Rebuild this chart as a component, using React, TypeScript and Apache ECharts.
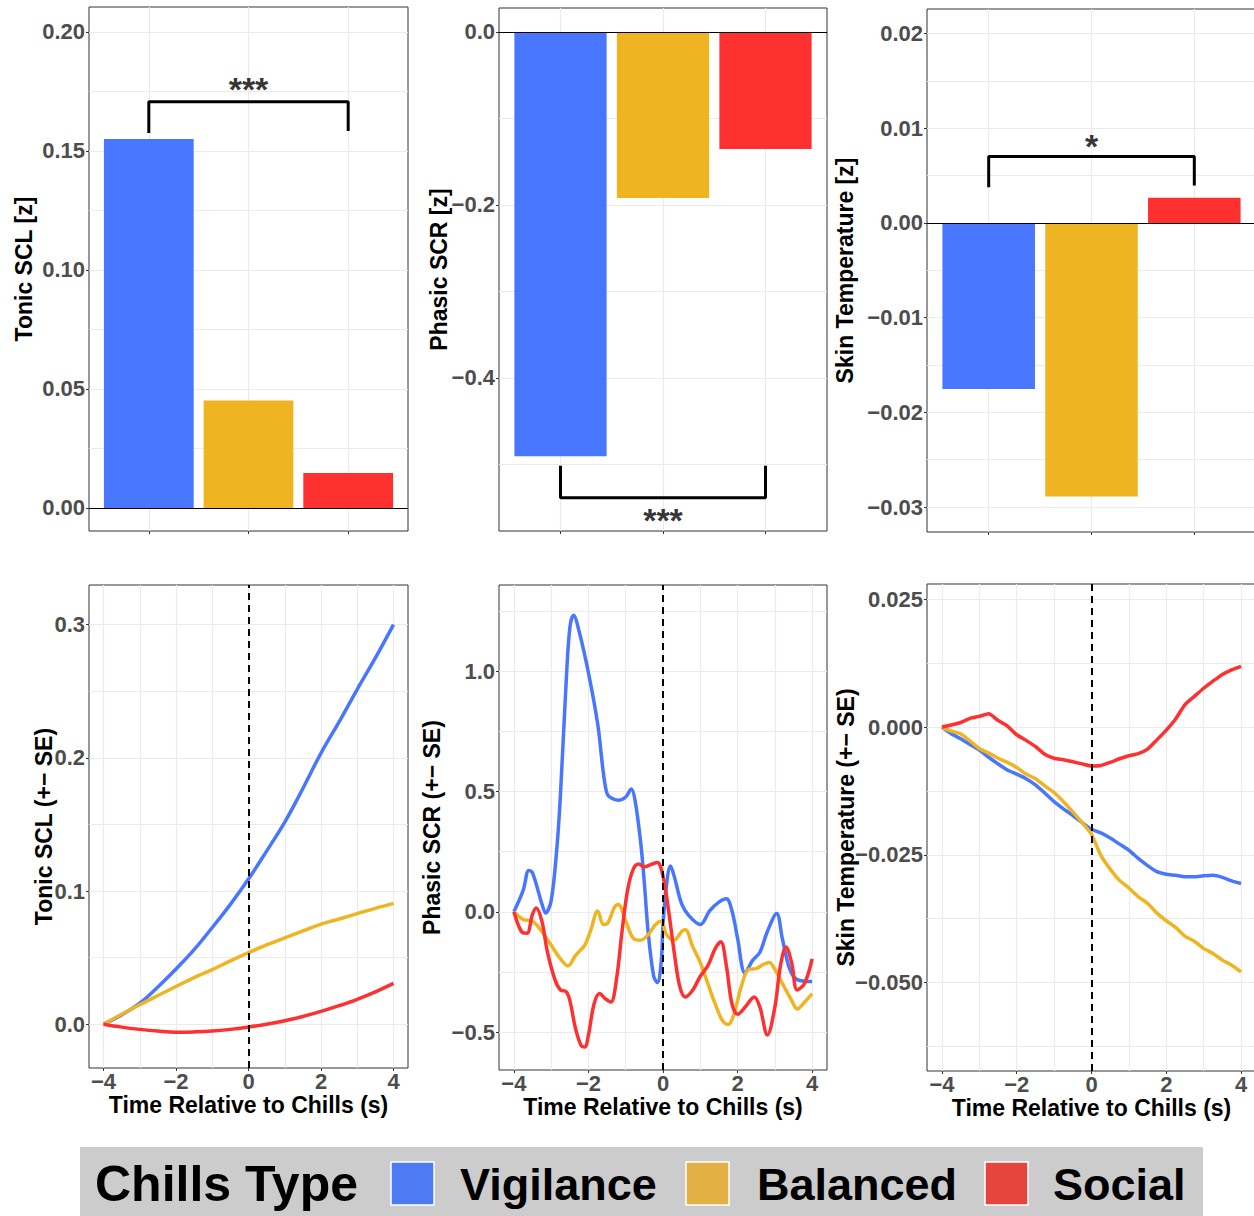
import React, { useEffect, useRef } from 'react';
import * as echarts from 'echarts';

const FONT = '"Liberation Sans", Arial, Helvetica, sans-serif';

// ---------- data ----------
const chillsTypes = ['Vigilance', 'Balanced', 'Social'];
const seriesColors = ['#4876FF', '#EEB422', '#FF3030'];
const legendKeyColors = ['#4D7BF3', '#E3B143', '#E5453D'];

// top row: mean responses per chills type
const tonicBar = [0.155, 0.0451, 0.0147];
const phasicBar = [-0.4904, -0.192, -0.1353];
const skinBar = [-0.01754, -0.0289, 0.00266];

// significance brackets: [legStart, barLevel, legEnd, labelLevel]
const tonicSig = [0.1575, 0.1707, 0.1584, 0.178];
const phasicSig = [-0.5016, -0.5384, -0.5016, -0.5595];
const skinSig = [0.00376, 0.00703, 0.00395, 0.00852];
const tonicStars = '***';
const phasicStars = '***';
const skinStars = '*';

// bottom-left: Tonic SCL time course
const tonicTime = [-4, -3.5, -3, -2.5, -2, -1.5, -1, -0.5, 0, 0.5, 1, 1.5, 2, 2.5, 3, 3.5, 4];
const tonicVigilance = [0, 0.007, 0.0158, 0.028, 0.0415, 0.056, 0.0726, 0.09, 0.109, 0.13, 0.1517, 0.177, 0.2036, 0.227, 0.2515, 0.275, 0.3];
const tonicBalanced = [0, 0.0074, 0.0146, 0.0215, 0.0283, 0.035, 0.041, 0.0475, 0.0537, 0.0595, 0.0648, 0.07, 0.0752, 0.079, 0.083, 0.087, 0.0907];
const tonicSocial = [0, -0.0022, -0.0039, -0.0052, -0.006, -0.0058, -0.0052, -0.0039, -0.0021, 0.0, 0.0026, 0.0058, 0.0096, 0.0139, 0.0187, 0.0243, 0.0306];

// bottom-middle: Phasic SCR time course
const phasicVigTime = [-4, -3.75, -3.6, -3.5, -3.25, -3.15, -3.0, -2.85, -2.75, -2.6, -2.5, -2.4, -2.25, -2.0, -1.75, -1.6, -1.5, -1.4, -1.2, -1.0, -0.85, -0.75, -0.6, -0.5, -0.4, -0.25, -0.15, -0.05, 0, 0.1, 0.2, 0.3, 0.5, 0.7, 1.0, 1.25, 1.5, 1.7, 1.85, 2.0, 2.2, 2.4, 2.6, 2.8, 3.05, 3.2, 3.4, 3.6, 4.0];
const phasicVigilance = [0, 0.09, 0.172, 0.162, 0.033, -0.005, 0.047, 0.26, 0.49, 0.95, 1.18, 1.232, 1.165, 0.993, 0.778, 0.577, 0.49, 0.474, 0.463, 0.477, 0.51, 0.463, 0.29, 0.119, -0.082, -0.268, -0.294, -0.21, -0.053, 0.119, 0.19, 0.148, 0.033, -0.017, -0.053, 0.004, 0.04, 0.054, 0.004, -0.11, -0.254, -0.203, -0.168, -0.082, -0.007, -0.11, -0.239, -0.282, -0.29];
const phasicBalTime = [-4, -3.75, -3.5, -3.25, -3.0, -2.75, -2.55, -2.35, -2.1, -1.95, -1.75, -1.6, -1.5, -1.3, -1.2, -1.0, -0.8, -0.6, -0.4, -0.2, -0.05, 0.1, 0.3, 0.5, 0.6, 0.8, 1.0, 1.2, 1.4, 1.6, 1.75, 1.9, 2.1, 2.3, 2.5, 2.7, 2.85, 3.0, 3.2, 3.45, 3.6, 3.8, 4.0];
const phasicBalanced = [0, -0.032, -0.039, -0.082, -0.139, -0.196, -0.225, -0.182, -0.139, -0.082, 0.003, -0.053, -0.05, 0.019, 0.03, -0.039, -0.11, -0.118, -0.096, -0.053, -0.039, -0.096, -0.118, -0.082, -0.075, -0.146, -0.211, -0.297, -0.383, -0.454, -0.469, -0.426, -0.311, -0.239, -0.236, -0.218, -0.211, -0.239, -0.297, -0.368, -0.404, -0.375, -0.34];
const phasicSocTime = [-4, -3.8, -3.65, -3.5, -3.4, -3.25, -3.1, -2.9, -2.75, -2.6, -2.5, -2.35, -2.2, -2.1, -2.0, -1.85, -1.7, -1.55, -1.4, -1.25, -1.1, -0.95, -0.8, -0.65, -0.5, -0.3, -0.15, 0, 0.15, 0.3, 0.45, 0.6, 0.8, 1.0, 1.2, 1.4, 1.55, 1.7, 1.85, 2.0, 2.2, 2.45, 2.6, 2.8, 3.0, 3.15, 3.3, 3.45, 3.6, 3.8, 4.0];
const phasicSocial = [0, -0.082, -0.089, -0.01, 0.016, -0.039, -0.168, -0.282, -0.325, -0.332, -0.368, -0.483, -0.555, -0.562, -0.512, -0.383, -0.34, -0.361, -0.375, -0.282, -0.082, 0.09, 0.176, 0.198, 0.186, 0.198, 0.205, 0.148, 0.004, -0.168, -0.311, -0.354, -0.325, -0.268, -0.225, -0.153, -0.125, -0.225, -0.383, -0.426, -0.397, -0.354, -0.397, -0.512, -0.397, -0.225, -0.146, -0.211, -0.325, -0.297, -0.196];

// bottom-right: Skin temperature time course
const skinTime = [-4, -3.75, -3.5, -3.25, -3, -2.75, -2.5, -2.25, -2, -1.75, -1.5, -1.25, -1, -0.75, -0.5, -0.25, 0, 0.25, 0.5, 0.75, 1, 1.25, 1.5, 1.75, 2, 2.25, 2.5, 2.75, 3, 3.25, 3.5, 3.75, 4];
const skinVigilance = [0, -0.0013, -0.0023, -0.0034, -0.0045, -0.0059, -0.0072, -0.0084, -0.0092, -0.0101, -0.0113, -0.0129, -0.0146, -0.016, -0.0173, -0.0187, -0.02, -0.0207, -0.0217, -0.0229, -0.0241, -0.0257, -0.0271, -0.0283, -0.0288, -0.029, -0.0293, -0.0293, -0.0291, -0.029, -0.0294, -0.0301, -0.0306];
const skinBalanced = [0, -0.0008, -0.0013, -0.0027, -0.0042, -0.0051, -0.0061, -0.0069, -0.0079, -0.0092, -0.0101, -0.0115, -0.0128, -0.0146, -0.0166, -0.0187, -0.021, -0.0251, -0.0278, -0.03, -0.0315, -0.0332, -0.0345, -0.0364, -0.0379, -0.0392, -0.0409, -0.0419, -0.0433, -0.0443, -0.0456, -0.0466, -0.0479];
const skinSocial = [0, 0.0004, 0.0009, 0.0017, 0.0021, 0.0026, 0.0013, 0.0002, -0.0015, -0.0026, -0.0038, -0.0053, -0.0061, -0.0064, -0.0068, -0.0072, -0.0076, -0.0075, -0.0069, -0.0062, -0.0056, -0.0052, -0.0043, -0.0025, -0.0006, 0.0016, 0.0044, 0.006, 0.0076, 0.009, 0.0103, 0.0112, 0.0119];

// axis ticks
const barXTicks = [1, 2, 3];
const timeTicks = [-4, -2, 0, 2, 4];
const timeMinor = [-3, -1, 1, 3];
const tonicBarTicks = [0, 0.05, 0.1, 0.15, 0.2];
const tonicBarMinor = [0.025, 0.075, 0.125, 0.175];
const phasicBarTicks = [-0.4, -0.2, 0];
const phasicBarMinor = [-0.5, -0.3, -0.1];
const skinBarTicks = [-0.03, -0.02, -0.01, 0, 0.01, 0.02];
const skinBarMinor = [-0.025, -0.015, -0.005, 0.005, 0.015];
const tonicLineTicks = [0, 0.1, 0.2, 0.3];
const tonicLineMinor = [0.05, 0.15, 0.25];
const phasicLineTicks = [-0.5, 0, 0.5, 1.0];
const phasicLineMinor = [-0.25, 0.25, 0.75, 1.25];
const skinLineTicks = [-0.05, -0.025, 0, 0.025];
const skinLineMinor = [-0.0625, -0.0375, -0.0125, 0.0125];

const xTitle = 'Time Relative to Chills (s)';

// ---------- helpers ----------
const fmt = (d: number) => (v: number) => {
  const s = Number(v).toFixed(d);
  return s.startsWith('-') ? '\u2212' + s.slice(1) : s;
};

interface PanelDef {
  rect: { left: number; top: number; width: number; height: number };
  xMin: number; xMax: number; xTicks: number[]; xMinor: number[]; xLabels: boolean; xDec: number;
  yMin: number; yMax: number; yTicks: number[]; yMinor: number[]; yDec: number;
  yName: string; yGap: number; xName?: string; xGap?: number;
}

const panels: PanelDef[] = [
  { rect: { left: 89, top: 7, width: 319, height: 524 }, xMin: 0.4, xMax: 3.6, xTicks: barXTicks, xMinor: [], xLabels: false, xDec: 0,
    yMin: -0.0097, yMax: 0.2105, yTicks: tonicBarTicks, yMinor: tonicBarMinor, yDec: 2, yName: 'Tonic SCL [z]', yGap: 54 },
  { rect: { left: 499, top: 8, width: 328, height: 523 }, xMin: 0.4, xMax: 3.6, xTicks: barXTicks, xMinor: [], xLabels: false, xDec: 0,
    yMin: -0.5769, yMax: 0.0277, yTicks: phasicBarTicks, yMinor: phasicBarMinor, yDec: 1, yName: 'Phasic SCR [z]', yGap: 49 },
  { rect: { left: 927, top: 9, width: 329, height: 523 }, xMin: 0.4, xMax: 3.6, xTicks: barXTicks, xMinor: [], xLabels: false, xDec: 0,
    yMin: -0.03264, yMax: 0.0226, yTicks: skinBarTicks, yMinor: skinBarMinor, yDec: 2, yName: 'Skin Temperature [z]', yGap: 71 },
  { rect: { left: 89, top: 585, width: 319, height: 483 }, xMin: -4.4, xMax: 4.4, xTicks: timeTicks, xMinor: timeMinor, xLabels: true, xDec: 0,
    yMin: -0.0329, yMax: 0.3298, yTicks: tonicLineTicks, yMinor: tonicLineMinor, yDec: 1, yName: 'Tonic SCL (+\u2212 SE)', yGap: 34, xName: xTitle, xGap: 25 },
  { rect: { left: 499, top: 585, width: 328, height: 485 }, xMin: -4.4, xMax: 4.4, xTicks: timeTicks, xMinor: timeMinor, xLabels: true, xDec: 0,
    yMin: -0.6576, yMax: 1.358, yTicks: phasicLineTicks, yMinor: phasicLineMinor, yDec: 1, yName: 'Phasic SCR (+\u2212 SE)', yGap: 56, xName: xTitle, xGap: 25 },
  { rect: { left: 927, top: 584, width: 329, height: 487 }, xMin: -4.4, xMax: 4.4, xTicks: timeTicks, xMinor: timeMinor, xLabels: true, xDec: 0,
    yMin: -0.0673, yMax: 0.028, yTicks: skinLineTicks, yMinor: skinLineMinor, yDec: 3, yName: 'Skin Temperature (+\u2212 SE)', yGap: 70, xName: xTitle, xGap: 25 },
];

const nameStyle = { fontSize: 23, fontWeight: 'bold', color: '#000000', fontFamily: FONT };
const tickLabelStyle = { fontSize: 22, fontWeight: 'bold', color: '#4D4D4D', fontFamily: FONT };

function gridAxis(gi: number, min: number, max: number, vals: number[], pos: string) {
  return {
    type: 'value', gridIndex: gi, min, max, position: pos, silent: true,
    axisLine: { show: false, onZero: false },
    axisTick: { show: false, customValues: vals },
    axisLabel: { show: false },
    splitLine: { show: true, lineStyle: { color: '#EBEBEB', width: 1.2 } },
  };
}

function labelAxis(gi: number, min: number, max: number, ticks: number[], pos: string, showLabels: boolean,
  dec: number, margin: number, name?: string, gap?: number) {
  return {
    type: 'value', gridIndex: gi, min, max, position: pos, silent: true,
    axisLine: { show: false, onZero: false },
    axisTick: { show: true, customValues: ticks, length: 3, inside: false, lineStyle: { color: '#333333', width: 1 } },
    axisLabel: { show: showLabels, customValues: ticks, formatter: fmt(dec), margin, ...tickLabelStyle },
    splitLine: { show: false },
    name: name || '', nameLocation: 'middle', nameGap: gap || 0, nameMoveOverlap: false,
    nameTextStyle: nameStyle,
  };
}

function barSeries(gi: number, values: number[], sig: number[], stars: string, labelShift: number) {
  const ax = 2 * gi + 1;
  return [
    {
      type: 'bar', xAxisIndex: ax, yAxisIndex: ax, barWidth: '90%', silent: true,
      data: values.map((v, k) => ({ value: [barXTicks[k], v], itemStyle: { color: seriesColors[k] } })),
      markLine: {
        silent: true, symbol: ['none', 'none'], label: { show: false }, animation: false,
        lineStyle: { color: '#000000', width: 1, type: 'solid' }, emphasis: { disabled: true },
        data: [{ yAxis: 0 }],
      },
    },
    {
      type: 'line', xAxisIndex: ax, yAxisIndex: ax, symbol: 'none', silent: true, z: 5,
      lineStyle: { color: '#000000', width: 3 },
      data: [[barXTicks[0], sig[0]], [barXTicks[0], sig[1]], [barXTicks[2], sig[1]], [barXTicks[2], sig[2]]],
    },
    {
      type: 'scatter', xAxisIndex: ax, yAxisIndex: ax, symbolSize: 1, silent: true, z: 6,
      itemStyle: { color: 'rgba(0,0,0,0)' },
      label: { show: true, position: 'inside', formatter: stars, fontSize: 34, fontWeight: 'bold', color: '#000000', fontFamily: FONT, offset: [0, labelShift] },
      data: [[barXTicks[1], sig[3]]],
    },
  ];
}

function lineSeries(gi: number, times: number[][], values: number[][], smooth: number) {
  const ax = 2 * gi + 1;
  return values.map((vals, k) => ({
    type: 'line', xAxisIndex: ax, yAxisIndex: ax, symbol: 'none', showSymbol: false, silent: true,
    smooth, z: 3,
    lineStyle: { color: seriesColors[k], width: 3.5 },
    data: vals.map((v, j) => [times[k][j], v]),
    ...(k === 0
      ? {
          markLine: {
            silent: true, symbol: ['none', 'none'], label: { show: false }, animation: false, z: 10,
            lineStyle: { color: '#000000', width: 2, type: [7, 5] }, emphasis: { disabled: true },
            data: [{ xAxis: 0 }],
          },
        }
      : {}),
  }));
}

function buildOption() {
  const grid: any[] = [];
  const xAxis: any[] = [];
  const yAxis: any[] = [];
  panels.forEach((p, i) => {
    grid.push({
      ...p.rect, show: true, borderColor: '#333333', borderWidth: 1, backgroundColor: 'transparent',
      containLabel: false, outerBoundsMode: 'none',
    });
    xAxis.push(gridAxis(i, p.xMin, p.xMax, [...p.xTicks, ...p.xMinor], 'bottom'));
    xAxis.push(labelAxis(i, p.xMin, p.xMax, p.xTicks, 'bottom', p.xLabels, p.xDec, 2, p.xName, p.xGap));
    yAxis.push(gridAxis(i, p.yMin, p.yMax, [...p.yTicks, ...p.yMinor], 'left'));
    yAxis.push(labelAxis(i, p.yMin, p.yMax, p.yTicks, 'left', true, p.yDec, 4, p.yName, p.yGap));
  });

  const series: any[] = [
    ...barSeries(0, tonicBar, tonicSig, tonicStars, 5),
    ...barSeries(1, phasicBar, phasicSig, phasicStars, 4),
    ...barSeries(2, skinBar, skinSig, skinStars, 4),
    ...lineSeries(3, [tonicTime, tonicTime, tonicTime], [tonicVigilance, tonicBalanced, tonicSocial], 0.4),
    ...lineSeries(4, [phasicVigTime, phasicBalTime, phasicSocTime], [phasicVigilance, phasicBalanced, phasicSocial], 0.35),
    ...lineSeries(5, [skinTime, skinTime, skinTime], [skinVigilance, skinBalanced, skinSocial], 0.2),
  ];

  const keyX = [391, 686, 985];
  const labelX = [460, 757, 1053];
  const graphic: any[] = [
    { type: 'rect', silent: true, z: -1, shape: { x: 80, y: 1147, width: 1123, height: 80 }, style: { fill: '#CCCCCC' } },
    { type: 'text', silent: true, x: 95, y: 1184, style: { text: 'Chills Type', fontSize: 50, fontWeight: 'bold', fontFamily: FONT, fill: '#000000', verticalAlign: 'middle' } },
  ];
  chillsTypes.forEach((name, k) => {
    graphic.push({ type: 'rect', silent: true, shape: { x: keyX[k], y: 1162, width: 43, height: 43 }, style: { fill: legendKeyColors[k], stroke: '#FFFFFF', lineWidth: 1.5 } });
    graphic.push({ type: 'text', silent: true, x: labelX[k], y: 1184, style: { text: name, fontSize: 45, fontWeight: 'bold', fontFamily: FONT, fill: '#000000', verticalAlign: 'middle' } });
  });

  return {
    animation: false,
    backgroundColor: '#FFFFFF',
    grid, xAxis, yAxis, series, graphic,
  };
}

export default function App() {
  const ref = useRef<HTMLDivElement>(null);
  useEffect(() => {
    if (!ref.current) return;
    const chart = echarts.init(ref.current, null, { renderer: 'svg' });
    chart.setOption(buildOption() as any);
    return () => chart.dispose();
  }, []);
  return <div ref={ref} style={{ position: 'absolute', left: 0, top: 0, width: 1254, height: 1216 }} />;
}
